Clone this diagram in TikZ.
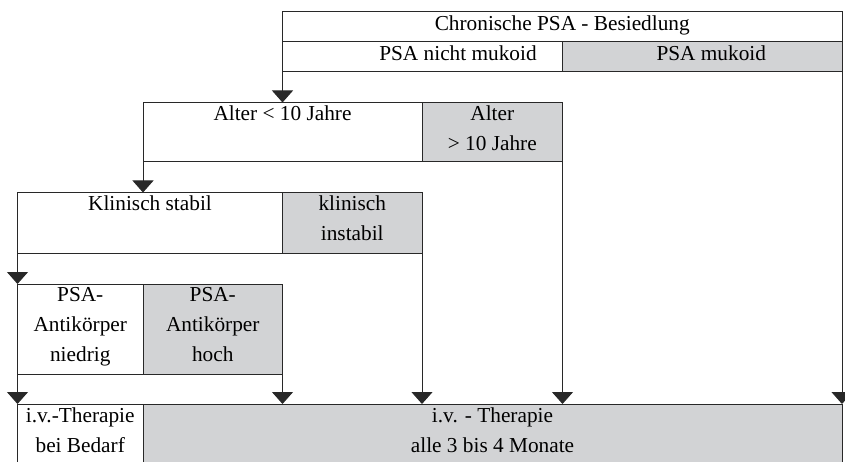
\documentclass[tikz,border=0pt]{standalone}
\usepackage{fontspec}
\setmainfont{Liberation Serif}
\usepackage{tikz}
\usetikzlibrary{positioning, arrows.meta}
\definecolor{cellgrey}{RGB}{210,211,213}
\definecolor{celledge}{RGB}{40,40,40}
\tikzset{
  flowcell/.style  = {rectangle, draw=celledge, line width=1pt, fill=white,
                      anchor=north west, inner sep=0pt, outer sep=0pt},
  flowgrey/.style  = {flowcell, fill=cellgrey},
  flowtext/.style  = {inner sep=0pt, align=center,
                      font=\fontsize{21.3}{30}\selectfont},
  flowarrow/.style = {-{Triangle[width=21pt, length=12pt]}, line width=1pt,
                      draw=celledge}
}
\begin{document}
\begin{tikzpicture}[x=1pt, y=-1pt]
\useasboundingbox (0,0) rectangle (845,462);
\clip (0,0) rectangle (845,462);

% Besiedlung
\node[flowcell, minimum width=559.5pt, minimum height=30pt] (chron) at (282.5,12) {};
\node[flowcell, minimum width=280pt, minimum height=30pt] (nmuk) at (chron.south west) {};
\node[flowgrey, minimum width=279.5pt, minimum height=30pt] (muk) at (nmuk.north east) {};

% Alter
\node[flowcell, minimum width=279pt, minimum height=59.5pt] (young) at (143,102.5) {};
\node[flowgrey, minimum width=140.5pt, minimum height=59.5pt] (old) at (young.north east) {};

% Klinik
\node[flowcell, minimum width=265pt, minimum height=60.5pt] (stable) at (17.5,192.5) {};
\node[flowgrey, minimum width=139.5pt, minimum height=60.5pt] (unstable) at (stable.north east) {};

% Antikoerper
\node[flowcell, minimum width=125.5pt, minimum height=90.5pt] (ablow) at (17.5,284) {};
\node[flowgrey, minimum width=139.5pt, minimum height=90.5pt] (abhigh) at (ablow.north east) {};

% Therapie
\node[flowcell, minimum width=125.5pt, minimum height=80pt] (ivneed) at (17.5,404) {};
\node[flowgrey, minimum width=699pt, minimum height=80pt] (ivreg) at (ivneed.north east) {};

\node[flowtext, below=3.5pt of chron.north] (chront) {Chronische PSA - Besiedlung};
\node[flowtext, below=3.5pt of nmuk.north, xshift=35.5pt] (nmukt) {PSA nicht mukoid};
\node[flowtext, below=3.5pt of muk.north, xshift=9pt] (mukt) {PSA mukoid};
\node[flowtext, below=3.5pt of young.north] (youngt) {Alter < 10 Jahre};
\node[flowtext, below=3.5pt of old.north] (oldt) {Alter\\> 10 Jahre};
\node[flowtext, below=3.5pt of stable.north] (stablet) {Klinisch stabil};
\node[flowtext, below=3.5pt of unstable.north] (unstablet) {klinisch\\instabil};
\node[flowtext, below=3.5pt of ablow.north] (ablowt) {PSA-\\Antikörper\\niedrig};
\node[flowtext, below=3.5pt of abhigh.north] (abhight) {PSA-\\Antikörper\\hoch};
\node[flowtext, below=3.5pt of ivneed.north] (ivneedt) {i.v.-Therapie\\bei Bedarf};
\node[flowtext, below=3.5pt of ivreg.north] (ivregt) {i.v. - Therapie\\alle 3 bis 4 Monate};

\draw[flowarrow] (nmuk.south west) -- (nmuk.south west |- young.north);
\draw[flowarrow] (muk.south east) -- (muk.south east |- ivreg.north);
\draw[flowarrow] (young.south west) -- (young.south west |- stable.north);
\draw[flowarrow] (old.south east) -- (old.south east |- ivreg.north);
\draw[flowarrow] (stable.south west) -- (stable.south west |- ablow.north);
\draw[flowarrow] (unstable.south east) -- (unstable.south east |- ivreg.north);
\draw[flowarrow] (ablow.south west) -- (ablow.south west |- ivneed.north);
\draw[flowarrow] (abhigh.south east) -- (abhigh.south east |- ivreg.north);
\end{tikzpicture}
\end{document}
